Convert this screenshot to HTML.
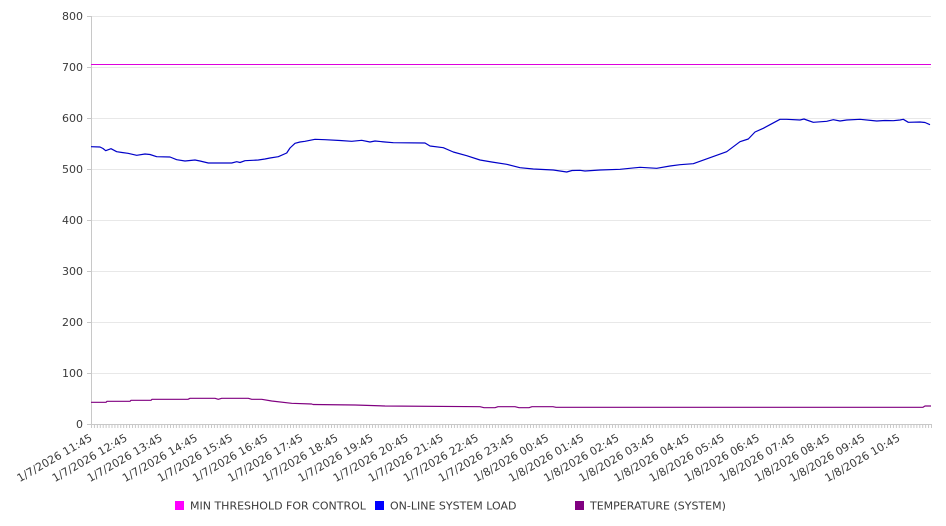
<!DOCTYPE html>
<html><head><meta charset="utf-8"><style>
html,body{margin:0;padding:0;background:#fff;}
svg{display:block;font-family:"DejaVu Sans","Liberation Sans",sans-serif;}
</style></head><body>
<svg width="946" height="526" viewBox="0 0 946 526" xmlns="http://www.w3.org/2000/svg">
<defs>
<pattern id="tk" x="91" y="424" width="2.92683" height="5" patternUnits="userSpaceOnUse">
<rect x="0" y="0" width="1" height="4" fill="#c8c8c8"/>
</pattern>
</defs>
<g stroke="#e8e8e8" stroke-width="1">
<line x1="91" y1="16.5" x2="931" y2="16.5"/>
<line x1="91" y1="67.5" x2="931" y2="67.5"/>
<line x1="91" y1="118.5" x2="931" y2="118.5"/>
<line x1="91" y1="169.5" x2="931" y2="169.5"/>
<line x1="91" y1="220.5" x2="931" y2="220.5"/>
<line x1="91" y1="271.5" x2="931" y2="271.5"/>
<line x1="91" y1="322.5" x2="931" y2="322.5"/>
<line x1="91" y1="373.5" x2="931" y2="373.5"/>
</g>
<g stroke="#c8c8c8" stroke-width="1">
<line x1="91.5" y1="16" x2="91.5" y2="424"/>
<line x1="91" y1="424.5" x2="931" y2="424.5"/>
<line x1="87" y1="16.5" x2="91" y2="16.5"/>
<line x1="87" y1="67.5" x2="91" y2="67.5"/>
<line x1="87" y1="118.5" x2="91" y2="118.5"/>
<line x1="87" y1="169.5" x2="91" y2="169.5"/>
<line x1="87" y1="220.5" x2="91" y2="220.5"/>
<line x1="87" y1="271.5" x2="91" y2="271.5"/>
<line x1="87" y1="322.5" x2="91" y2="322.5"/>
<line x1="87" y1="373.5" x2="91" y2="373.5"/>
<line x1="87" y1="424.5" x2="91" y2="424.5"/>
</g>
<rect x="91" y="424" width="841" height="4" fill="url(#tk)"/>
<g font-size="11" fill="#3a3a3a" text-anchor="end">
<text x="83" y="20">800</text>
<text x="83" y="71">700</text>
<text x="83" y="122">600</text>
<text x="83" y="173">500</text>
<text x="83" y="224">400</text>
<text x="83" y="275">300</text>
<text x="83" y="326">200</text>
<text x="83" y="377">100</text>
<text x="83" y="428">0</text>
</g>
<line x1="91" y1="64.5" x2="931" y2="64.5" stroke="#dd00dd" stroke-width="1"/>
<polyline fill="none" stroke="#0000c8" stroke-width="1.2" stroke-linejoin="round" points="91,146.7 100,147 103,148.5 105.7,150.7 111,148.7 116.7,151.7 122,152.5 128,153.3 136.7,155.3 145,154 150,154.5 156.7,156.7 170,157 176.7,159.7 185,161 195,160 200,161 208.3,163 231.7,163 236.7,161.7 240,162.5 245,160.7 258.3,160 265,159 270,158 278.3,156.7 286.7,153 290,148 295,143.3 300,142 305,141.3 315,139.3 325,139.7 340,140.5 351.7,141.3 361.7,140.3 370,142 375,141 385,142 393.3,142.7 425,143 430,146 443.3,147.7 453.3,152 466.7,155.7 480,160 491.7,162 506.7,164.3 520,167.7 533.3,169 553.3,170 560,171 566.7,172 572,170.5 580,170.3 585,171 600,170 620,169.3 640,167.3 656.7,168.3 670,166 680,164.7 693.3,163.7 710,157.7 726.7,151.7 740,141.7 748.3,139 755,132 763.3,128.3 770,124.7 780,119.3 786.7,119.3 800,120 804,119 806.7,120 813.3,122.3 826.7,121.3 833.3,119.7 840,121 846.7,120 860,119.3 876.7,121 885,120.5 893.3,120.7 900,120 903.3,119.3 908.3,122.3 920,122 925,122.5 930,124.7"/>
<polyline fill="none" stroke="#800080" stroke-width="1.2" stroke-linejoin="round" points="91,402.3 106,402.3 107,401.3 130,401.3 131,400.3 151,400.3 152,399.3 188,399.3 190,398.3 215,398.3 218.3,399.3 221.7,398.3 248.3,398.3 251.7,399.3 261.7,399.3 271.7,401 291.7,403.3 311.7,404 313,404.5 355,405 385,406 480,406.7 484,407.7 495,407.7 498,406.7 515,406.7 519,407.7 529,407.7 532,406.7 553,406.7 556,407.3 923,407.3 925,406 931,406"/>
<g font-size="11" fill="#3a3a3a" text-anchor="end">
<text transform="translate(93,440) rotate(-30)">1/7/2026 11:45</text>
<text transform="translate(128.12,440) rotate(-30)">1/7/2026 12:45</text>
<text transform="translate(163.24,440) rotate(-30)">1/7/2026 13:45</text>
<text transform="translate(198.37,440) rotate(-30)">1/7/2026 14:45</text>
<text transform="translate(233.49,440) rotate(-30)">1/7/2026 15:45</text>
<text transform="translate(268.61,440) rotate(-30)">1/7/2026 16:45</text>
<text transform="translate(303.73,440) rotate(-30)">1/7/2026 17:45</text>
<text transform="translate(338.85,440) rotate(-30)">1/7/2026 18:45</text>
<text transform="translate(373.98,440) rotate(-30)">1/7/2026 19:45</text>
<text transform="translate(409.1,440) rotate(-30)">1/7/2026 20:45</text>
<text transform="translate(444.22,440) rotate(-30)">1/7/2026 21:45</text>
<text transform="translate(479.34,440) rotate(-30)">1/7/2026 22:45</text>
<text transform="translate(514.46,440) rotate(-30)">1/7/2026 23:45</text>
<text transform="translate(549.59,440) rotate(-30)">1/8/2026 00:45</text>
<text transform="translate(584.71,440) rotate(-30)">1/8/2026 01:45</text>
<text transform="translate(619.83,440) rotate(-30)">1/8/2026 02:45</text>
<text transform="translate(654.95,440) rotate(-30)">1/8/2026 03:45</text>
<text transform="translate(690.07,440) rotate(-30)">1/8/2026 04:45</text>
<text transform="translate(725.2,440) rotate(-30)">1/8/2026 05:45</text>
<text transform="translate(760.32,440) rotate(-30)">1/8/2026 06:45</text>
<text transform="translate(795.44,440) rotate(-30)">1/8/2026 07:45</text>
<text transform="translate(830.56,440) rotate(-30)">1/8/2026 08:45</text>
<text transform="translate(865.68,440) rotate(-30)">1/8/2026 09:45</text>
<text transform="translate(900.81,440) rotate(-30)">1/8/2026 10:45</text>
</g>
<g font-size="11" fill="#3a3a3a">
<rect x="175" y="501" width="9" height="9" fill="#ff00ff"/>
<text x="190" y="509.5">MIN THRESHOLD FOR CONTROL</text>
<rect x="375" y="501" width="9" height="9" fill="#0000ff"/>
<text x="390" y="509.5">ON-LINE SYSTEM LOAD</text>
<rect x="575" y="501" width="9" height="9" fill="#800080"/>
<text x="590" y="509.5">TEMPERATURE (SYSTEM)</text>
</g>
</svg>
</body></html>
